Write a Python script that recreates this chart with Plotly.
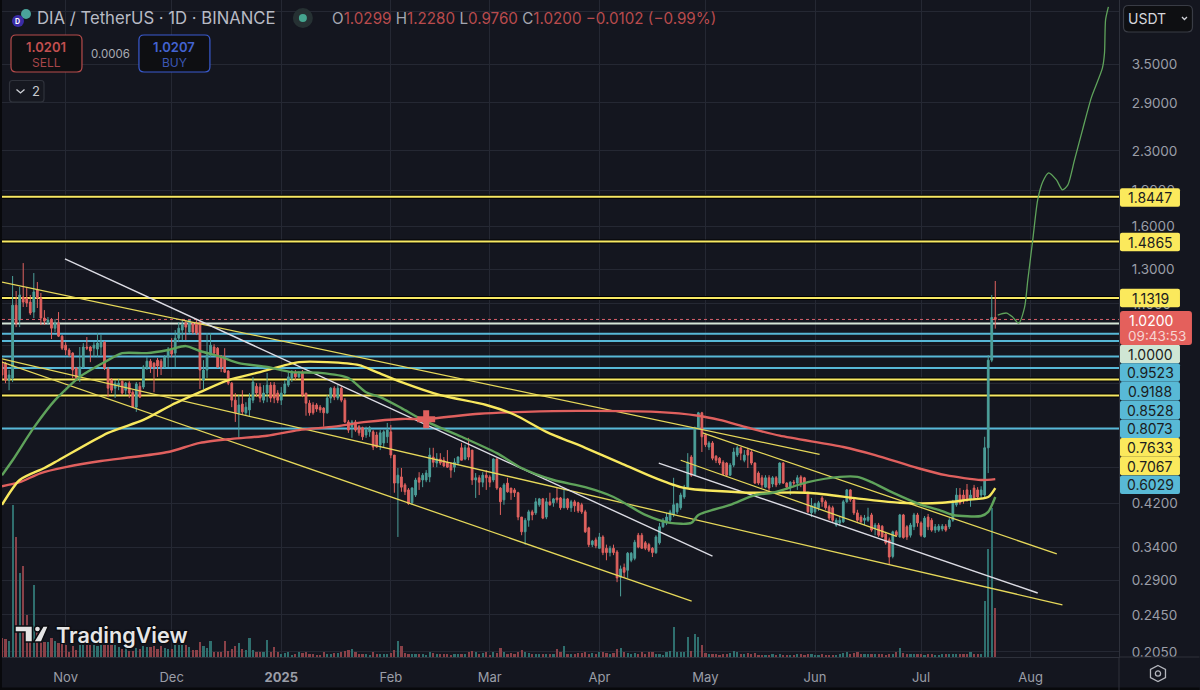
import math
import pandas as pd
import plotly.graph_objects as go

# daily candles, first one is 2024-10-14
START = pd.Timestamp("2024-10-14")

OPEN = [
    .830,.826,.761,.769,1.093,1.017,1.137,1.131,1.109,1.057,
    1.176,1.131,1.027,1.007,1.017,.978,1.002,.941,.901,.880,
    .867,.807,.773,.811,.893,.893,.888,.884,.893,.914,
    .803,.761,.732,.743,.757,.725,.750,.718,.668,.739,
    .736,.807,.834,.826,.838,.834,.811,.851,.884,.867,
    .932,.969,1.002,.960,1.002,1.002,1.007,.761,.799,.859,
    .893,.888,.855,.851,.795,.750,.691,.650,.678,.650,
    .659,.691,.739,.736,.691,.715,.743,.743,.715,.691,
    .715,.743,.769,.788,.773,.791,.715,.681,.675,.675,
    .668,.665,.650,.698,.732,.698,.732,.691,.622,.608,
    .622,.608,.605,.584,.593,.593,.584,.557,.562,.579,
    .593,.530,.463,.477,.459,.448,.421,.437,.475,.470,
    .470,.477,.525,.510,.520,.517,.512,.507,.500,.510,
    .549,.520,.549,.543,.470,.475,.465,.481,.477,.470,
    .520,.452,.427,.463,.452,.448,.442,.393,.366,.387,
    .403,.401,.417,.429,.393,.423,.421,.431,.431,.411,
    .429,.411,.423,.421,.417,.403,.373,.344,.352,.338,
    .357,.338,.331,.338,.332,.294,.308,.304,.319,.322,
    .360,.360,.347,.344,.338,.331,.347,.375,.382,.387,
    .397,.403,.411,.433,.454,.525,.481,.605,.650,.584,
    .551,.562,.527,.522,.512,.510,.481,.505,.530,.549,
    .517,.543,.538,.510,.486,.475,.454,.475,.461,.475,
    .463,.510,.463,.454,.465,.463,.477,.475,.442,.401,
    .403,.411,.431,.423,.413,.411,.378,.382,.384,.423,
    .448,.427,.401,.393,.387,.387,.397,.373,.378,.376,
    .362,.352,.325,.366,.357,.397,.375,.360,.375,.397,
    .382,.357,.393,.387,.369,.369,.371,.376,.375,.387,
    .417,.437,.437,.448,.427,.452,.448,.437,.437,.549,
    .838,1.0299,
]
HIGH = [
    .838,.830,.799,1.258,1.170,1.193,1.339,1.193,1.148,1.276,
    1.222,1.159,1.067,1.032,1.027,1.022,1.057,.946,.914,.888,
    .871,.811,.893,.910,.937,.897,.914,.955,.946,.919,
    .811,.769,.761,.765,.761,.754,.757,.725,.754,.754,
    .818,.851,.843,.830,.847,.843,.859,.893,.932,.969,
    1.007,1.022,1.017,1.017,1.007,1.017,1.007,.838,.955,.955,
    .905,.893,.859,.888,.799,.754,.715,.708,.725,.684,
    .715,.773,.750,.750,.743,.788,.754,.754,.725,.736,
    .761,.791,.799,.799,.795,.799,.715,.691,.684,.681,
    .675,.668,.708,.736,.739,.743,.739,.698,.628,.628,
    .628,.613,.608,.608,.610,.598,.593,.598,.598,.619,
    .613,.530,.498,.498,.463,.452,.454,.475,.488,.486,
    .493,.549,.549,.535,.535,.525,.543,.512,.522,.527,
    .562,.557,.576,.543,.486,.481,.488,.493,.481,.522,
    .522,.454,.463,.475,.452,.452,.444,.393,.391,.407,
    .407,.431,.431,.431,.431,.442,.431,.452,.433,.452,
    .431,.427,.427,.423,.421,.407,.375,.352,.356,.364,
    .360,.344,.342,.344,.335,.311,.314,.332,.332,.352,
    .364,.364,.350,.347,.340,.360,.382,.391,.401,.407,
    .475,.421,.442,.459,.535,.530,.608,.653,.653,.587,
    .567,.567,.530,.525,.517,.512,.510,.549,.554,.551,
    .543,.549,.543,.512,.490,.481,.481,.481,.479,.479,
    .512,.512,.465,.467,.470,.481,.481,.477,.444,.431,
    .421,.425,.435,.427,.417,.415,.391,.395,.427,.450,
    .450,.431,.407,.397,.397,.411,.401,.382,.382,.378,
    .366,.356,.368,.369,.399,.399,.378,.382,.401,.401,
    .385,.395,.399,.391,.380,.380,.380,.380,.391,.427,
    .452,.452,.448,.461,.448,.459,.454,.456,.579,.859,
    1.148,1.228,
]
LOW = [
    .761,.750,.725,.754,.983,.983,1.083,1.083,1.042,1.027,
    1.078,.993,.993,.993,.928,.960,.937,.880,.859,.851,
    .769,.761,.754,.807,.880,.830,.851,.851,.859,.799,
    .701,.715,.698,.725,.708,.708,.698,.665,.653,.698,
    .729,.799,.788,.718,.773,.780,.807,.811,.851,.811,
    .914,.923,.923,.955,.950,.946,.729,.729,.769,.851,
    .859,.807,.791,.788,.743,.668,.622,.576,.644,.641,
    .638,.681,.701,.684,.681,.684,.684,.681,.681,.675,
    .708,.736,.754,.761,.769,.701,.641,.641,.644,.653,
    .650,.608,.647,.681,.691,.691,.684,.619,.590,.576,
    .593,.582,.570,.576,.579,.543,.549,.543,.551,.562,
    .522,.442,.357,.444,.437,.417,.417,.433,.448,.454,
    .465,.465,.500,.500,.505,.500,.498,.475,.488,.505,
    .517,.517,.517,.459,.431,.437,.454,.448,.454,.465,
    .448,.397,.417,.442,.427,.433,.387,.360,.344,.375,
    .387,.397,.413,.389,.389,.415,.413,.421,.407,.411,
    .407,.403,.403,.401,.399,.364,.340,.340,.338,.338,
    .327,.319,.325,.327,.287,.268,.294,.293,.316,.319,
    .338,.338,.335,.332,.324,.329,.344,.373,.378,.382,
    .393,.399,.407,.429,.452,.477,.479,.601,.538,.551,
    .543,.517,.510,.505,.481,.479,.479,.500,.525,.517,
    .512,.498,.505,.461,.459,.452,.452,.442,.454,.454,
    .459,.461,.448,.437,.454,.448,.454,.442,.401,.393,
    .399,.405,.413,.407,.387,.382,.375,.376,.382,.421,
    .423,.397,.384,.382,.378,.384,.366,.360,.357,.356,
    .344,.313,.322,.357,.356,.354,.352,.356,.369,.375,
    .357,.356,.369,.366,.364,.366,.367,.366,.371,.384,
    .413,.417,.419,.423,.413,.427,.427,.431,.433,.486,
    .830,.976,
]
CLOSE = [
    .780,.761,.780,1.093,1.002,1.148,1.109,1.104,1.052,1.165,
    1.131,1.027,1.012,1.017,.978,1.002,.941,.888,.880,.859,
    .799,.769,.811,.893,.888,.876,.901,.910,.914,.807,
    .732,.725,.750,.750,.715,.750,.715,.668,.747,.701,
    .811,.834,.811,.811,.815,.811,.851,.884,.863,.932,
    .978,.997,.983,1.017,.960,.955,.799,.799,.859,.901,
    .867,.811,.811,.791,.750,.691,.650,.675,.653,.668,
    .698,.754,.715,.698,.715,.743,.698,.698,.691,.715,
    .747,.773,.788,.773,.784,.708,.681,.650,.650,.662,
    .659,.650,.698,.732,.701,.732,.691,.622,.598,.622,
    .598,.590,.579,.598,.605,.551,.551,.590,.593,.598,
    .530,.463,.481,.454,.444,.419,.452,.470,.465,.481,
    .486,.530,.512,.520,.510,.503,.500,.493,.512,.525,
    .517,.549,.525,.470,.475,.465,.481,.475,.465,.520,
    .452,.423,.459,.444,.442,.442,.393,.366,.387,.403,
    .397,.423,.429,.391,.423,.417,.429,.427,.411,.429,
    .411,.423,.415,.405,.403,.366,.344,.350,.342,.357,
    .331,.331,.338,.331,.293,.306,.301,.330,.330,.348,
    .340,.338,.338,.335,.331,.357,.375,.387,.393,.403,
    .417,.419,.437,.454,.512,.481,.605,.650,.579,.557,
    .562,.522,.517,.510,.483,.481,.505,.538,.549,.535,
    .530,.530,.510,.463,.463,.459,.475,.452,.475,.459,
    .510,.463,.454,.465,.463,.475,.463,.444,.403,.415,
    .419,.421,.423,.411,.391,.387,.387,.387,.423,.448,
    .427,.401,.387,.384,.391,.393,.369,.378,.360,.357,
    .347,.324,.366,.360,.397,.356,.357,.378,.397,.382,
    .360,.391,.375,.369,.375,.376,.376,.369,.387,.421,
    .437,.421,.427,.427,.437,.431,.433,.448,.549,.838,
    1.030,1.0200,
]
VOLUME = [
    58,55,50,462,365,255,278,128,90,218,
    80,60,45,45,58,48,42,40,38,15,
    35,20,38,38,38,38,38,32,38,38,
    38,38,38,30,25,30,18,18,28,25,
    35,30,30,35,25,35,28,25,25,38,
    38,38,38,30,20,20,45,35,28,48,
    15,15,15,48,18,25,32,42,25,22,
    58,22,15,15,15,52,15,30,15,8,
    12,14,6,8,14,12,14,10,8,5,
    5,14,8,10,12,12,14,18,22,25,
    15,10,8,8,6,14,10,8,8,8,
    12,20,50,32,12,10,10,8,10,8,
    6,15,12,10,8,8,8,6,8,8,
    10,8,14,18,15,8,12,15,6,14,
    12,28,15,8,12,10,15,22,15,12,
    10,8,10,8,8,8,8,25,15,32,
    10,8,8,12,12,14,10,12,10,14,
    15,12,8,12,25,28,15,12,10,12,
    8,15,10,15,15,8,8,6,15,18,
    92,15,15,15,60,18,70,60,38,12,
    10,8,8,6,8,8,12,18,14,10,
    10,12,8,12,6,6,6,6,8,6,
    8,6,6,6,6,8,8,6,8,10,
    6,6,8,6,6,6,6,8,12,14,
    10,12,14,10,10,8,10,8,8,8,
    6,8,10,14,28,12,8,10,8,8,
    8,6,8,8,6,6,8,8,8,8,
    8,10,8,10,14,8,8,8,170,330,
    455,150,
]

# moving averages read at a few days (day number counted from START)
GREEN_MA_DAYS = [0,3,9,15,22,29,34,41,47,52,56,62,67,75,82,90,98,103,107,113,119,130,140,147,156,165,173,182,189,195,197,206,213,218,228,237,242,246,252,260,265,269,277,279,281]
GREEN_MA = [.481,.517,.605,.691,.773,.830,.867,.867,.880,.897,.876,.851,.826,.811,.791,.788,.769,.718,.701,.665,.628,.579,.535,.498,.470,.454,.433,.397,.382,.382,.397,.417,.437,.442,.465,.477,.477,.465,.442,.417,.407,.397,.395,.403,.433]
YELLOW_MA_DAYS = [0,5,12,16,30,40,48,56,64,73,84,92,101,106,113,124,137,145,154,165,175,184,192,195,211,228,243,254,266,273,279,281]
YELLOW_MA = [.417,.470,.498,.517,.590,.628,.675,.718,.761,.791,.830,.830,.818,.791,.754,.708,.675,.644,.593,.549,.510,.477,.454,.450,.442,.442,.429,.421,.421,.427,.433,.452]
RED_MA_DAYS = [0,5,11,18,28,37,47,56,65,75,84,94,103,113,120,135,148,163,185,197,203,211,220,238,247,259,267,277,281]
RED_MA = [.456,.465,.486,.500,.515,.525,.538,.562,.573,.582,.598,.608,.622,.631,.631,.647,.653,.656,.653,.641,.628,.605,.582,.551,.530,.498,.481,.470,.472]

# hand drawn projection after the last candle
PROJECTION_DAYS = [281.7,284.2,285.9,287.6,289.3,290.2,291.6,293,294.4,296.1,298.3,300,301.5,303.4,305.7,308.2,311.3,311.9,312.2,313]
PROJECTION = [1.042,1.052,1.032,1.002,1.083,1.234,1.497,1.816,1.98,2.07,2.0,1.906,1.95,2.20,2.55,2.98,3.43,3.69,4.33,4.61]

# trend lines: day, price at both ends
YELLOW_TRENDS = [
    ([0, 231.3], [1.222, .532]),
    ([0, 300], [.843, .2573]),
    ([0, 195.1], [.830, .262]),
    ([198.2, 298.4], [.590, .329]),
    ([192, 253.1], [.517, .358]),
]
WHITE_TRENDS = [
    ([17.8, 201], [1.366, .3255]),
    ([185.8, 293], [.510, .2724]),
]
MARK_DAY = 120
MARK_PRICE = .630

YELLOW_LEVELS = [1.8447, 1.4865, 1.1319, .7633, .7067]
BLUE_LEVELS = [.9523, .9188, .8528, .8073, .6029]
WHITE_LEVEL = 1.0
LAST_PRICE = 1.02

PRICE_TICKS = [4.5, 3.5, 2.9, 2.3, 1.9, 1.6, 1.3, 1.1, .9, .75, .6, .5, .42, .34, .29, .245, .205]
# the ticks under the USDT button and the stacked labels show no text
PRICE_TICK_TEXT = ["", "3.5000", "2.9000", "2.3000", "1.9000", "1.6000", "1.3000", "1.1000", "", "", "", "", "0.4200", "0.3400", "0.2900", "0.2450", "0.2050"]
MONTHS = ["2024-11-01","2024-12-01","2025-01-01","2025-02-01","2025-03-01","2025-04-01","2025-05-01","2025-06-01","2025-07-01","2025-08-01"]
MONTH_LABELS = ["Nov","Dec","<b>2025</b>","Feb","Mar","Apr","May","Jun","Jul","Aug"]

# stacked labels in the price scale: text, colour, centre y in page pixels
PRICE_LABELS = [
    ("1.8447", "#fbe95c", 197.5),
    ("1.4865", "#fbe95c", 242),
    ("1.1319", "#fbe95c", 298),
    ("1.0000", "#cfe6d4", 354),
    ("0.9523", "#58b9d6", 372.5),
    ("0.9188", "#58b9d6", 391.2),
    ("0.8528", "#58b9d6", 410),
    ("0.8073", "#58b9d6", 428.7),
    ("0.7633", "#fbe95c", 447.4),
    ("0.7067", "#fbe95c", 466),
    ("0.6029", "#58b9d6", 484.7),
]

BG = "#14161f"
GRID = "#252833"
UP = "#4c9f99"
DOWN = "#e0625f"
YELLOW = "#f8e964"
BLUE = "#57b8d8"
AXIS_TEXT = "#9b9ea8"
FONT = "Inter"

PLOT_L, PLOT_R, PLOT_B = 2, 1119.5, 657
X_RANGE = ["2024-10-14", "2025-08-26"]
Y_RANGE = [math.log10(.2), math.log10(4.767)]


def day(d):
    return START + pd.to_timedelta(d, unit="D")


def px(x):
    return (x - PLOT_L) / (PLOT_R - PLOT_L)


def py(y):
    return 1 - y / PLOT_B


def box_path(x0, y0, x1, y1, r):
    return (f"M{px(x0+r)},{py(y0)} L{px(x1-r)},{py(y0)} Q{px(x1)},{py(y0)} {px(x1)},{py(y0+r)} "
            f"L{px(x1)},{py(y1-r)} Q{px(x1)},{py(y1)} {px(x1-r)},{py(y1)} "
            f"L{px(x0+r)},{py(y1)} Q{px(x0)},{py(y1)} {px(x0)},{py(y1-r)} "
            f"L{px(x0)},{py(y0+r)} Q{px(x0)},{py(y0)} {px(x0+r)},{py(y0)} Z")


def poly_path(points, close=True):
    s = "M" + " L".join(f"{px(a)},{py(b)}" for a, b in points)
    return s + (" Z" if close else "")


def add_box(x0, y0, x1, y1, r, fill, line=None, w=1.2):
    fig.add_shape(type="path", xref="paper", yref="paper", path=box_path(x0, y0, x1, y1, r),
                  fillcolor=fill, line=dict(color=line or fill, width=w if line else 0))


def add_poly(points, fill=None, line=None, w=1.2, close=True):
    fig.add_shape(type="path", xref="paper", yref="paper", path=poly_path(points, close),
                  fillcolor=fill or "rgba(0,0,0,0)", line=dict(color=line or "rgba(0,0,0,0)", width=w if line else 0))


def add_circle(cx, cy, r, fill, line=None):
    fig.add_shape(type="circle", xref="paper", yref="paper", x0=px(cx-r), x1=px(cx+r), y0=py(cy+r), y1=py(cy-r),
                  fillcolor=fill, line=dict(color=line or fill, width=1.3 if line else 0))


def add_text(x, y, text, size, color, anchor="left", weight=400, **kw):
    fig.add_annotation(xref="paper", yref="paper", x=px(x), y=py(y), text=text, showarrow=False, xanchor=anchor,
                       yanchor="middle", borderpad=0, font=dict(family=FONT, size=size, color=color, weight=weight, **kw))


fig = go.Figure()
dates = [day(i) for i in range(len(CLOSE))]

# horizontal levels sit below the candles
for lvl in YELLOW_LEVELS:
    fig.add_trace(go.Scatter(x=X_RANGE, y=[lvl, lvl], mode="lines", line=dict(color="#000000", width=4), yaxis="y"))
    fig.add_trace(go.Scatter(x=X_RANGE, y=[lvl, lvl], mode="lines", line=dict(color=YELLOW, width=2), yaxis="y"))
for lvl in BLUE_LEVELS:
    fig.add_trace(go.Scatter(x=X_RANGE, y=[lvl, lvl], mode="lines", line=dict(color=BLUE, width=2), yaxis="y"))
fig.add_trace(go.Scatter(x=X_RANGE, y=[WHITE_LEVEL, WHITE_LEVEL], mode="lines", line=dict(color="#d6e6d8", width=2), yaxis="y"))

vol_colors = ["#2f6f6e" if c >= o else "#8a4148" for o, c in zip(OPEN, CLOSE)]
fig.add_trace(go.Bar(x=dates, y=VOLUME, marker=dict(color=vol_colors, line=dict(width=0)),
                     width=0.62 * 86400000, yaxis="y2"))

fig.add_trace(go.Candlestick(x=dates, open=OPEN, high=HIGH, low=LOW, close=CLOSE, yaxis="y3",
                             increasing=dict(line=dict(color=UP, width=1), fillcolor=UP),
                             decreasing=dict(line=dict(color=DOWN, width=1), fillcolor=DOWN)))

fig.add_trace(go.Scatter(x=X_RANGE, y=[LAST_PRICE, LAST_PRICE], mode="lines",
                         line=dict(color="#d8606c", width=1, dash="dot"), yaxis="y3"))

for days, prices in YELLOW_TRENDS:
    fig.add_trace(go.Scatter(x=[day(d) for d in days], y=prices, mode="lines", line=dict(color="#e6d85a", width=1.3), yaxis="y3"))
for days, prices in WHITE_TRENDS:
    fig.add_trace(go.Scatter(x=[day(d) for d in days], y=prices, mode="lines", line=dict(color="#dcdce4", width=1.4), yaxis="y3"))

fig.add_trace(go.Scatter(x=[day(d) for d in RED_MA_DAYS], y=RED_MA, mode="lines",
                         line=dict(color="#e0605e", width=2.4, shape="spline", smoothing=0.7), yaxis="y3"))
fig.add_trace(go.Scatter(x=[day(d) for d in YELLOW_MA_DAYS], y=YELLOW_MA, mode="lines",
                         line=dict(color="#f8e85e", width=2.4, shape="spline", smoothing=0.7), yaxis="y3"))
fig.add_trace(go.Scatter(x=[day(d) for d in GREEN_MA_DAYS], y=GREEN_MA, mode="lines",
                         line=dict(color="#5fa35b", width=2.4, shape="spline", smoothing=0.7), yaxis="y3"))
fig.add_trace(go.Scatter(x=[day(d) for d in PROJECTION_DAYS], y=PROJECTION, mode="lines",
                         line=dict(color="#5fa35b", width=1.3, shape="spline", smoothing=0.7), yaxis="y3"))
fig.add_trace(go.Scatter(x=[day(MARK_DAY)], y=[MARK_PRICE], mode="markers",
                         marker=dict(symbol="cross", size=15, color="#e0605e", line=dict(width=0)), yaxis="y3"))

fig.update_layout(
    width=1200, height=690,
    margin=dict(l=PLOT_L, r=1200 - PLOT_R, t=0, b=690 - PLOT_B),
    paper_bgcolor=BG, plot_bgcolor=BG,
    showlegend=False, bargap=0,
    xaxis=dict(type="date", range=X_RANGE, tickvals=MONTHS, ticktext=MONTH_LABELS, showgrid=True, gridcolor=GRID, gridwidth=1,
               ticks="outside", ticklen=8, tickcolor="rgba(0,0,0,0)", showline=True, linecolor="#2e313b", linewidth=1,
               zeroline=False, rangeslider=dict(visible=False),
               tickfont=dict(family=FONT, size=13, color=AXIS_TEXT)),
    yaxis=dict(type="log", range=Y_RANGE, side="right", tickvals=PRICE_TICKS, ticktext=PRICE_TICK_TEXT,
               showgrid=True, gridcolor=GRID, gridwidth=1, ticks="outside", ticklen=9, tickcolor="rgba(0,0,0,0)",
               showline=True, linecolor="#2e313b", linewidth=1, zeroline=False,
               tickfont=dict(family=FONT, size=13.5, color=AXIS_TEXT)),
    yaxis2=dict(overlaying="y", range=[0, 2000], visible=False),
    yaxis3=dict(overlaying="y", type="log", range=Y_RANGE, visible=False),
)

# window frame
fig.add_shape(type="rect", xref="paper", yref="paper", x0=px(0), x1=px(2), y0=py(690), y1=py(0), fillcolor="#08090c", line=dict(width=0))
fig.add_shape(type="rect", xref="paper", yref="paper", x0=px(0), x1=px(1200), y0=py(690), y1=py(687.5), fillcolor="#08090c", line=dict(width=0))
fig.add_shape(type="line", xref="paper", yref="paper", x0=px(PLOT_R), x1=px(1200), y0=py(PLOT_B), y1=py(PLOT_B), line=dict(color="#2e313b", width=1))
fig.add_shape(type="line", xref="paper", yref="paper", x0=px(PLOT_R), x1=px(PLOT_R), y0=py(690), y1=py(PLOT_B), line=dict(color="#2e313b", width=1))

# header
add_circle(26, 14, 5, "#4aa39a")
add_circle(18, 21, 6, "#3a2ca6")
add_text(18, 21, "D", 7, "#ffffff", "center", 700)
add_text(36, 18, "DIA / TetherUS · 1D · BINANCE", 16.7, "#b8bbc5")
add_circle(303, 18, 10, "#263133")
add_circle(303, 18, 4, "#45a58f")
v = "<span style='color:#b94b4d'>%s</span>"
add_text(331, 18, "O" + v % "1.0299" + " H" + v % "1.2280" + " L" + v % "0.9760" + " C" + v % "1.0200" + " " + v % "−0.0102 (−0.99%)", 15.2, "#a4a7b1")

# sell / buy
add_box(11, 35, 82, 72, 5, "#0e0f12", "#b84c4c")
add_text(46.5, 47.5, "1.0201", 13, "#c24f50", "center", 600)
add_text(46.5, 62.5, "SELL", 12, "#a8464a", "center")
add_text(110.5, 54, "0.0006", 11.5, "#a8abb3", "center")
add_box(139, 35, 210, 72, 5, "#0e0f12", "#3a5bd0")
add_text(174.5, 47.5, "1.0207", 13, "#4363d0", "center", 600)
add_text(174.5, 62.5, "BUY", 12, "#3c58b4", "center")
add_box(9.5, 80.5, 44, 102, 3, "#161820", "#2f323b")
add_poly([(16.5, 89.5), (20.5, 93), (24.5, 89.5)], None, "#d0d2d8", 1.3, close=False)
add_text(31, 91.5, "2", 13, "#c8cad0")

# currency button
add_box(1124, 5.5, 1193, 32, 5, "#0e0f12", "#393c45")
add_text(1128, 19, "USDT", 14, "#d6d7dc")
add_poly([(1182.5, 17), (1185, 19.5), (1187.5, 17)], None, "#d0d2d8", 1.3, close=False)

# price scale labels cover the ticks behind them
for text, color, yc in PRICE_LABELS:
    add_box(1120.5, yc - 9.3, 1180.5, yc + 9.3, 2, color)
    add_text(1151, yc, text, 14, "#1b1c20", "center")
add_box(1120.5, 311, 1192.5, 345, 3, "#e4605c")
add_text(1151.5, 320.5, "1.0200", 14, "#ffffff", "center")
add_text(1157.5, 335.5, "09:43:53", 13.5, "#f6d5d2", "center")

# settings icon
add_poly([(1158.5, 665.5), (1166, 669.5), (1166, 677.5), (1158.5, 681.5), (1151, 677.5), (1151, 669.5)], None, "#b4b6bd", 1.3)
add_circle(1158.5, 673.5, 2.6, "rgba(0,0,0,0)", "#b4b6bd")

# logo
LOGO_SHADOW = "#0b0c10"
add_poly([(15, 626), (32.5, 626), (32.5, 642), (25, 642), (25, 632), (15, 632)], "#e4e4e4", LOGO_SHADOW, 1.5)
add_circle(37.5, 629, 3, "#e4e4e4", LOGO_SHADOW)
add_poly([(43, 626), (48.5, 626), (41.5, 642), (33.5, 642)], "#e4e4e4", LOGO_SHADOW, 1.5)
add_text(55.5, 635, "TradingView", 21.6, "#e6e6e6", "left", 600, shadow="1px 1px 1px #0b0c10, -1px -1px 1px #0b0c10, 1px -1px 1px #0b0c10, -1px 1px 1px #0b0c10")

fig.write_html("out.html", config={"displayModeBar": False},
               post_script="document.body.style.margin='0';document.documentElement.style.overflow='hidden';")
